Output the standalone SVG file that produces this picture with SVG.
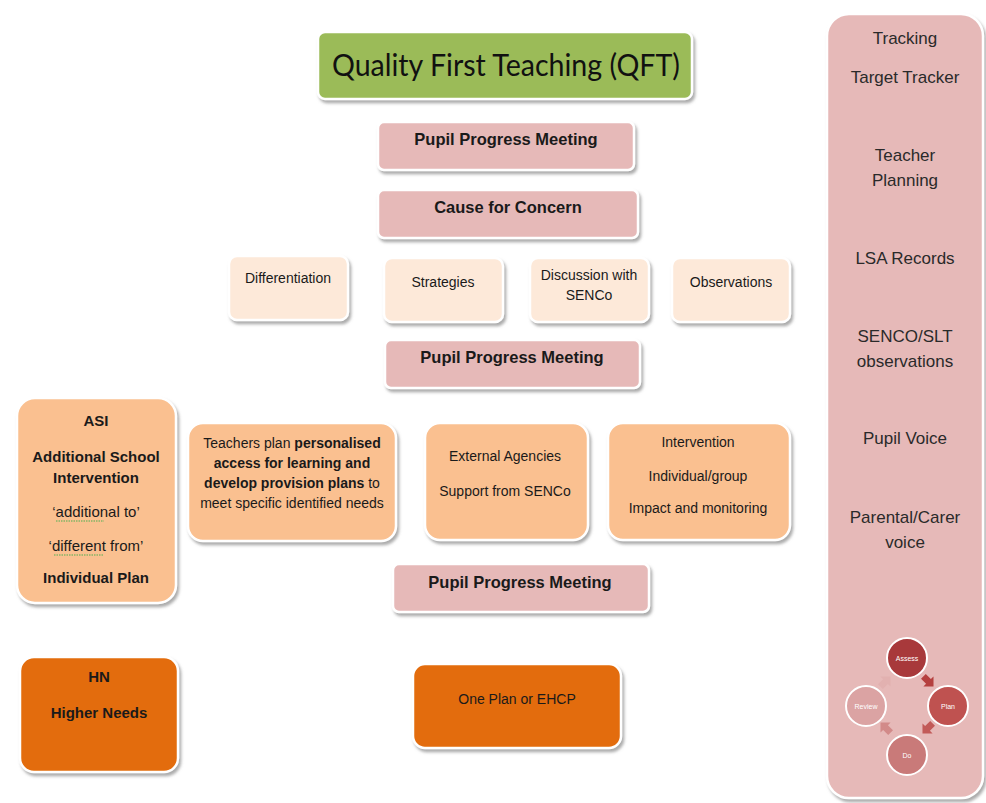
<svg xmlns="http://www.w3.org/2000/svg" width="986" height="803" viewBox="0 0 986 803">
<defs>
<filter id="sh" x="-10%" y="-10%" width="125%" height="130%">
<feDropShadow dx="2" dy="3" stdDeviation="1.6" flood-color="#7f7f7f" flood-opacity="0.65"/>
</filter>
<path id="arr" d="M-5,-2.6 L0.5,-2.6 L0.5,-5.5 L6,0 L0.5,5.5 L0.5,2.6 L-5,2.6 Z"/>
</defs>
<style>
.box{stroke:#ffffff;stroke-width:2.5;filter:url(#sh);}
.pink{fill:#e6b9b8;}
.lpeach{fill:#fde9d9;}
.peach{fill:#fac090;}
.orange{fill:#e36c09;}
.green{fill:#9bbb59;}
text{font-family:"Liberation Sans",Arial,sans-serif;text-anchor:middle;fill:#1a1a1a;}
.b17{font-size:16.5px;font-weight:bold;}
.b15{font-size:15px;font-weight:bold;}
.r15{font-size:15px;}
.r14{font-size:14px;}
.r17{font-size:17px;fill:#2a2a2a;}
.cyc{font-size:7px;fill:#ffffff;}
.circ{stroke:#ffffff;stroke-width:2;}
.squig{fill:none;stroke:#4caf50;stroke-width:1;stroke-dasharray:1.5 1;}
</style>
<rect width="986" height="803" fill="#ffffff"/>

<g id="tracking">
<rect class="box pink" x="827" y="14" width="156" height="784" rx="22"/>
<text class="r17" x="905" y="44">Tracking</text>
<text class="r17" x="905" y="83">Target Tracker</text>
<text class="r17" x="905" y="161">Teacher</text>
<text class="r17" x="905" y="186">Planning</text>
<text class="r17" x="905" y="264">LSA Records</text>
<text class="r17" x="905" y="342">SENCO/SLT</text>
<text class="r17" x="905" y="367">observations</text>
<text class="r17" x="905" y="444">Pupil Voice</text>
<text class="r17" x="905" y="523">Parental/Carer</text>
<text class="r17" x="905" y="548">voice</text>
</g>

<g id="cycle">
<g id="assess"><circle class="circ" cx="907" cy="658" r="20" fill="#a8393b"/><text class="cyc" x="907" y="661">Assess</text></g>
<g id="plan"><circle class="circ" cx="948" cy="706" r="20" fill="#bf5250"/><text class="cyc" x="948" y="709">Plan</text></g>
<g id="do"><circle class="circ" cx="907" cy="755" r="20" fill="#c97a79"/><text class="cyc" x="907" y="758">Do</text></g>
<g id="review"><circle class="circ" cx="866" cy="706" r="20" fill="#dba3a3"/><text class="cyc" x="866" y="709">Review</text></g>
</g>

<g id="connectors">
<use href="#arr" transform="translate(928,681) rotate(45) scale(1.3)" fill="#b5403f"/>
<use href="#arr" transform="translate(928,728) rotate(135) scale(1.3)" fill="#c25a58"/>
<use href="#arr" transform="translate(886,728) rotate(225) scale(1.3)" fill="#d28a89"/>
<use href="#arr" transform="translate(885,682) rotate(315) scale(1.3)" fill="#e2b1b0"/>
</g>

<g id="qft">
<rect class="box green" x="318" y="32" width="374" height="67" rx="7"/>
<text x="506" y="76" style="font-family:Lato,'Liberation Sans',sans-serif;font-size:30px;fill:#111" textLength="348" lengthAdjust="spacingAndGlyphs">Quality First Teaching (QFT)</text>
</g>

<g id="ppm1">
<rect class="box pink" x="378" y="122" width="256" height="48" rx="6"/>
<text class="b17" x="506" y="145">Pupil Progress Meeting</text>
</g>

<g id="concern">
<rect class="box pink" x="378" y="190" width="260" height="48" rx="6"/>
<text class="b17" x="508" y="213">Cause for Concern</text>
</g>

<g id="differentiation">
<rect class="box lpeach" x="229" y="256" width="119" height="64" rx="8"/>
<text class="r14" x="288" y="283">Differentiation</text>
</g>
<g id="strategies">
<rect class="box lpeach" x="384" y="258" width="119" height="64" rx="8"/>
<text class="r14" x="443" y="287">Strategies</text>
</g>
<g id="discussion">
<rect class="box lpeach" x="530" y="258" width="119" height="64" rx="8"/>
<text class="r14" x="589" y="280">Discussion with</text>
<text class="r14" x="589" y="300">SENCo</text>
</g>
<g id="observations">
<rect class="box lpeach" x="672" y="258" width="118" height="64" rx="8"/>
<text class="r14" x="731" y="287">Observations</text>
</g>

<g id="ppm2">
<rect class="box pink" x="385" y="340" width="255" height="48" rx="6"/>
<text class="b17" x="512" y="363">Pupil Progress Meeting</text>
</g>

<g id="asi">
<rect class="box peach" x="17" y="398" width="159" height="205" rx="18"/>
<text class="b15" x="96" y="426">ASI</text>
<text class="b15" x="96" y="462">Additional School</text>
<text class="b15" x="96" y="483">Intervention</text>
<text class="r15" x="96" y="517">‘additional to’</text>
<text class="r15" x="96" y="551">‘different from’</text>
<text class="b15" x="96" y="583">Individual Plan</text>
<path class="squig" d="M56,521 H104"/>
<path class="squig" d="M54,555 H103"/>
</g>

<g id="teachers">
<rect class="box peach" x="188" y="423" width="208" height="118" rx="15"/>
<text class="r14" x="292" y="448">Teachers plan <tspan font-weight="bold">personalised</tspan></text>
<text class="r14" x="292" y="468" font-weight="bold">access for learning and</text>
<text class="r14" x="292" y="488"><tspan font-weight="bold">develop provision plans</tspan> to</text>
<text class="r14" x="292" y="508">meet specific identified needs</text>
</g>

<g id="external">
<rect class="box peach" x="425" y="423" width="163" height="117" rx="15"/>
<text class="r14" x="505" y="461">External Agencies</text>
<text class="r14" x="505" y="496">Support from SENCo</text>
</g>

<g id="intervention">
<rect class="box peach" x="608" y="423" width="182" height="117" rx="15"/>
<text class="r14" x="698" y="447">Intervention</text>
<text class="r14" x="698" y="481">Individual/group</text>
<text class="r14" x="698" y="513">Impact and monitoring</text>
</g>

<g id="ppm3">
<rect class="box pink" x="393" y="564" width="256" height="48" rx="6"/>
<text class="b17" x="520" y="588">Pupil Progress Meeting</text>
</g>

<g id="hn">
<rect class="box orange" x="20" y="657" width="158" height="115" rx="14"/>
<text class="b15" x="99" y="682">HN</text>
<text class="b15" x="99" y="718">Higher Needs</text>
</g>

<g id="oneplan">
<rect class="box orange" x="413" y="664" width="208" height="84" rx="12"/>
<text class="r14" x="517" y="704">One Plan or EHCP</text>
</g>
</svg>
